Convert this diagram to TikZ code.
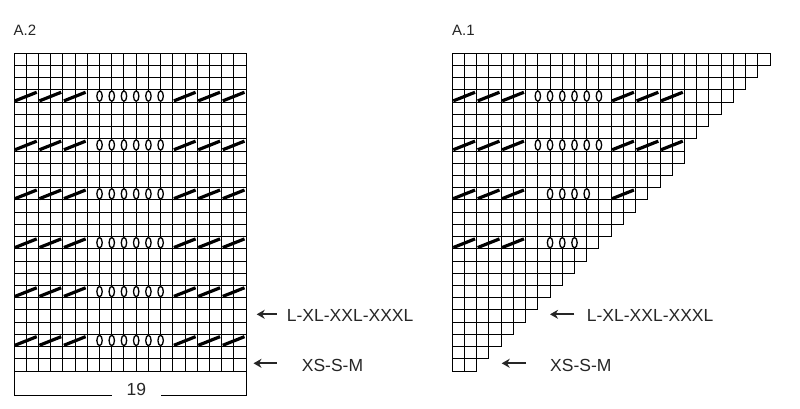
\documentclass[tikz,border=0pt]{standalone}
\usepackage{fontspec}
\setmainfont{Liberation Sans}
\usetikzlibrary{arrows.meta}
\usetikzlibrary{calc}
\newcommand{\cellsize}{12.22}
\newcommand{\charttop}{53.3}
\newcommand{\atwoxs}{14}
\newcommand{\atwoxe}{\atwoxs + 19*\cellsize}
\newcommand{\aonexs}{452.3}
\newcommand{\chartye}{\charttop + 26*\cellsize}
\newcommand{\bracey}{395}
\newcommand{\cellrow}[3]{
  \foreach \cl in {1,...,#3} {
    \draw[gridline] ({#1 + (\cl-1)*\cellsize}, {\charttop + (#2-1)*\cellsize})
      rectangle ++(\cellsize, \cellsize);
  }
}
\newcommand{\decsym}[3]{
  \draw[decline] ({#1 + (#3-1)*\cellsize + 1}, {\charttop + #2*\cellsize - 1.3})
    -- ({#1 + (#3+1)*\cellsize - 1.7}, {\charttop + (#2-1)*\cellsize + 2.3});
}
\newcommand{\yosym}[3]{
  \draw[yarnover] ({#1 + #3*\cellsize}, {\charttop + (#2-0.5)*\cellsize})
    ellipse (2.7 and 5.2);
}

\begin{document}
\begin{tikzpicture}[x=1pt, y=-1pt,
    gridline/.style={draw=black, line width=1pt},
    decline/.style={draw=black, line width=3.2pt},
    yarnover/.style={draw=black, fill=white, line width=1.3pt},
    titlelabel/.style={inner sep=0pt, text=black!85, font=\fontsize{15}{17}\selectfont},
    sizelabel/.style={inner sep=0pt, text=black!85, font=\fontsize{17.5}{20}\selectfont},
    sizearrow/.style={draw=black!85, line width=1.8pt, -{Stealth[length=8pt, width=9pt, inset=2.5pt]}}]
    \useasboundingbox (0,0) rectangle (800,408);

    \node[titlelabel, anchor=base west] (atwo) at (13.5,35.5) {A.2};
    \node[titlelabel, anchor=base west] (aone) at (452,35.5) {A.1};

    % a.2 chart
    \foreach \r in {1,...,26} {
      \cellrow{\atwoxs}{\r}{19}
    }
    \foreach \r in {4,8,...,24} {
      \foreach \cl in {1,3,5,14,16,18} {\decsym{\atwoxs}{\r}{\cl}}
      \foreach \yl in {7,...,12} {\yosym{\atwoxs}{\r}{\yl}}
    }

    % a.1 chart
    \foreach \r in {1,...,26} {
      \pgfmathtruncatemacro{\ncells}{\r < 9 ? 27 - \r : 28 - \r}
      \cellrow{\aonexs}{\r}{\ncells}
    }
    \foreach \r in {4,8} {
      \foreach \cl in {1,3,5,14,16,18} {\decsym{\aonexs}{\r}{\cl}}
      \foreach \yl in {7,...,12} {\yosym{\aonexs}{\r}{\yl}}
    }
    \foreach \cl in {1,3,5,14} {\decsym{\aonexs}{12}{\cl}}
    \foreach \yl in {8,...,11} {\yosym{\aonexs}{12}{\yl}}
    \foreach \cl in {1,3,5} {\decsym{\aonexs}{16}{\cl}}
    \foreach \yl in {8,...,10} {\yosym{\aonexs}{16}{\yl}}

    % stitch count
    \coordinate (atwobl) at (\atwoxs, {\chartye});
    \coordinate (atwobr) at ({\atwoxe}, {\chartye});
    \node[sizelabel, anchor=base, minimum width=49pt] (span) at (136.4,\bracey) {19};
    \draw[gridline] (atwobl) -- (atwobl |- span.base) -- (span.west |- span.base);
    \draw[gridline] (span.east |- span.base) -- (atwobr |- span.base) -- (atwobr);

    % sizes a.2
    \node[sizelabel, anchor=base west] (atwolarge) at (286.7,321.7) {L-XL-XXL-XXXL};
    \node[sizelabel, anchor=base west] (atwosmall) at (301.7,371) {XS-S-M};
    \coordinate (atwolargetip) at (256.7,314.3);
    \coordinate (atwolargetail) at (276.7,314.3);
    \coordinate (atwosmalltip) at (253.5,363.3);
    \coordinate (atwosmalltail) at (276.7,363.3);
    \draw[sizearrow] (atwolargetail) -- (atwolargetip);
    \draw[sizearrow] (atwosmalltail) -- (atwosmalltip);

    % sizes a.1
    \node[sizelabel, anchor=base west] (aonelarge) at (586.7,321.7) {L-XL-XXL-XXXL};
    \node[sizelabel, anchor=base west] (aonesmall) at (550,371) {XS-S-M};
    \coordinate (aonelargetip) at (550,314.3);
    \coordinate (aonelargetail) at (574.3,314.3);
    \coordinate (aonesmalltip) at (501.7,363.3);
    \coordinate (aonesmalltail) at (526,363.3);
    \draw[sizearrow] (aonelargetail) -- (aonelargetip);
    \draw[sizearrow] (aonesmalltail) -- (aonesmalltip);
  \end{tikzpicture}
\end{document}
